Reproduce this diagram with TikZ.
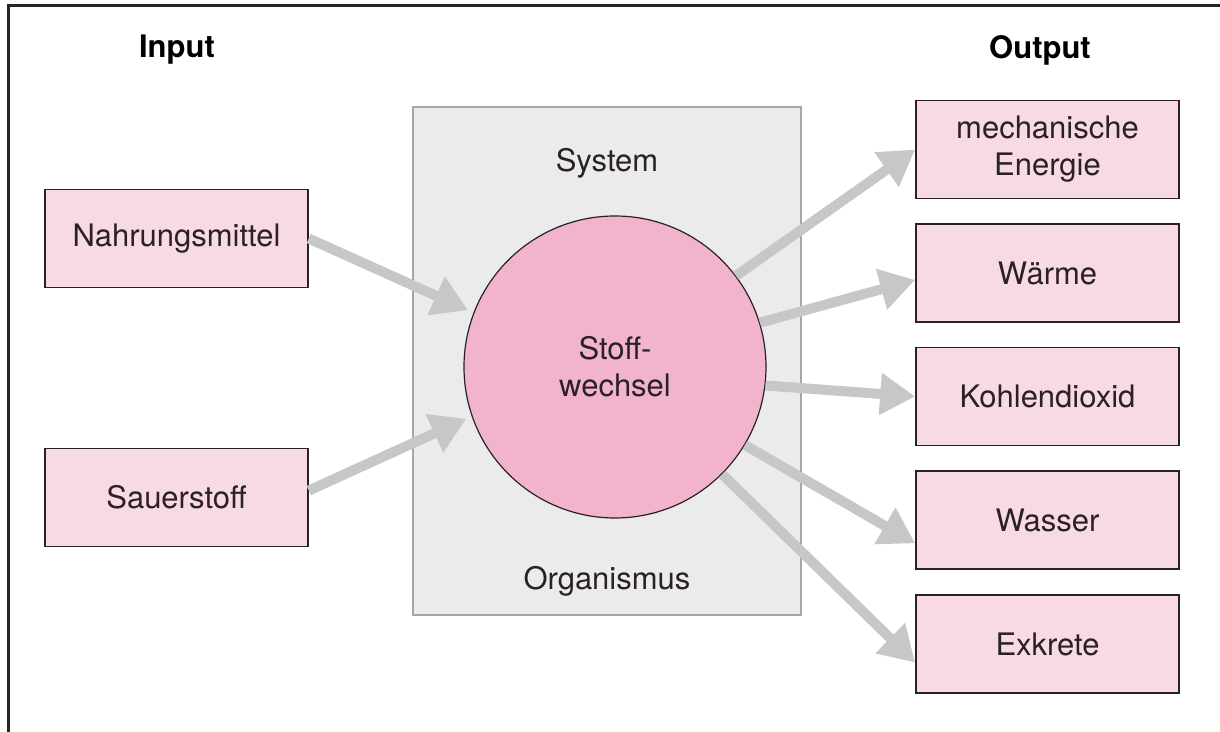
\documentclass[tikz,border=0pt]{standalone}
\usepackage{fontspec}
\setmainfont{TeX Gyre Heros}
\usepackage{xcolor}
\usepackage{tikz}
\usetikzlibrary{arrows.meta, positioning}
\definecolor{boxpink}{HTML}{F8D9E6}
\definecolor{circlepink}{HTML}{F2B4CD}
\definecolor{sysgray}{HTML}{EBEBEB}
\definecolor{sysborder}{HTML}{A6A6A6}
\definecolor{arrowgray}{HTML}{C6C7C9}
\definecolor{inkdark}{HTML}{2A2127}
\newcommand{\boxfont}{\fontsize{15.5pt}{18.5pt}\selectfont}
\tikzset{
    boxnode/.style = {draw=inkdark, rectangle, fill=boxpink, line width=0.8pt, inner sep=0em, 
      node distance=0em, minimum width=131.5pt, minimum height=49pt, font=\boxfont, text=inkdark},
    sysnode/.style = {draw=sysborder, rectangle, fill=sysgray, line width=0.8pt, inner sep=0em, 
      node distance=0em, minimum width=194pt, minimum height=254pt},
    circlenode/.style = {circle, draw=inkdark, fill=circlepink, line width=0.6pt, inner sep=0em, 
      node distance=0em, minimum size=151pt, font=\boxfont, text=inkdark},
    textnode/.style  = {draw=none, fill=none, rectangle, inner sep=0em, node distance=0em, 
      font=\boxfont, text=inkdark},
    headnode/.style  = {textnode, font=\boxfont\bfseries, text=black},
    connect/.style = {draw=arrowgray, line width=5pt, -{Triangle[length=17.5pt, width=20pt]}},
    every text node part/.style={align=center}
}

\begin{document}
\begin{tikzpicture}
\useasboundingbox (-303.5pt,-185.5pt) rectangle (306.5pt,180.5pt);
\draw [line width=1.5pt, black!85] (-299.25pt,-185.5pt) -- (-299.25pt,177.5pt) -- (306.5pt,177.5pt);

\node [sysnode, name=System] {};
\node [textnode, name=SysLabel, above of=System, yshift=99pt] {System};
\node [textnode, name=OrgLabel, below of=System, yshift=-110pt] {Organismus};
\node [circlenode, name=Stoff, right of=System, xshift=4pt, yshift=-3pt] {Stoff-\\wechsel};

\node [headnode, name=InputLabel, left of=System, xshift=-215pt, yshift=155.5pt] {Input};
\node [boxnode, name=Nahrung, left of=System, xshift=-215.25pt, yshift=61.25pt] {Nahrungsmittel};
\node [boxnode, name=Sauerstoff, left of=System, xshift=-215.25pt, yshift=-68.25pt] {Sauerstoff};

\node [headnode, name=OutputLabel, right of=System, xshift=216.5pt, yshift=155.5pt] {Output};
\node [boxnode, name=Mech, right of=System, xshift=220.25pt, yshift=105.75pt] {mechanische\\Energie};
\node [boxnode, name=Waerme, below of=Mech, yshift=-61.75pt] {Wärme};
\node [boxnode, name=Kohlendioxid, below of=Waerme, yshift=-61.75pt] {Kohlendioxid};
\node [boxnode, name=Wasser, below of=Kohlendioxid, yshift=-61.75pt] {Wasser};
\node [boxnode, name=Exkrete, below of=Wasser, yshift=-62pt] {Exkrete};

% input
\draw [connect, shorten >=3pt] (Nahrung.east) -- (Stoff.159);
\draw [connect, shorten >=3pt] (Sauerstoff.3) -- (Stoff.199);
% output
\draw [connect] (Stoff.37) -- (Mech.west);
\draw [connect] (Stoff.17) -- (Waerme.183);
\draw [connect] (Stoff.353) -- (Kohlendioxid.west);
\draw [connect] (Stoff.329) -- (Wasser.190);
\draw [connect] (Stoff.315) -- (Exkrete.188);
\end{tikzpicture}
\end{document}
